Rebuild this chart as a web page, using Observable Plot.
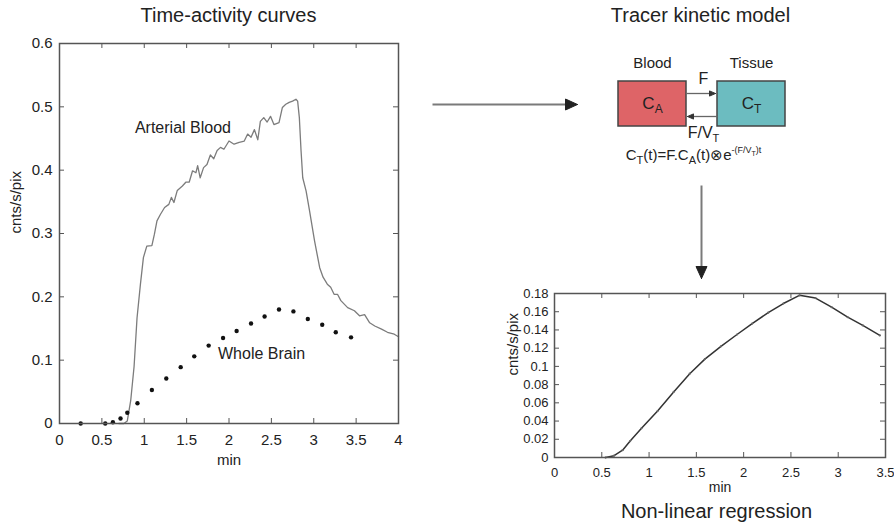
<!DOCTYPE html>
<html><head><meta charset="utf-8">
<script src="https://cdn.jsdelivr.net/npm/d3@7"></script>
<script src="https://cdn.jsdelivr.net/npm/@observablehq/plot@0.6"></script>
<style>
html,body{margin:0;padding:0;background:#fff;}
#root{position:relative;width:894px;height:529px;overflow:hidden;font-family:"Liberation Sans",Arial,Helvetica,sans-serif;}
#root svg{position:absolute;max-width:none !important;}
</style></head><body><div id="root"></div>
<script>
// ---------- data ----------
const arterialTime = [0.70,0.76,0.80,0.84,0.88,0.915,0.955,0.99,1.03,1.09,1.12,1.15,1.19,1.24,1.29,1.32,1.35,1.39,1.45,1.49,1.53,1.57,1.61,1.63,1.66,1.70,1.74,1.78,1.82,1.86,1.90,1.94,2.00,2.06,2.12,2.18,2.22,2.26,2.30,2.34,2.37,2.41,2.45,2.49,2.53,2.59,2.63,2.67,2.71,2.75,2.79,2.81,2.83,2.85,2.87,2.91,2.95,3.01,3.07,3.11,3.16,3.20,3.24,3.28,3.32,3.40,3.48,3.54,3.60,3.66,3.72,3.80,3.87,3.95,4.00];
const arterialValue = [0.000,0.000,0.004,0.036,0.090,0.167,0.220,0.262,0.280,0.281,0.299,0.320,0.330,0.341,0.346,0.357,0.349,0.368,0.375,0.381,0.381,0.399,0.396,0.407,0.388,0.404,0.409,0.424,0.418,0.431,0.436,0.433,0.446,0.441,0.444,0.446,0.457,0.452,0.464,0.448,0.477,0.483,0.476,0.485,0.472,0.475,0.499,0.504,0.507,0.509,0.512,0.509,0.483,0.431,0.388,0.367,0.336,0.288,0.246,0.231,0.220,0.215,0.204,0.204,0.194,0.183,0.178,0.170,0.172,0.159,0.154,0.149,0.144,0.141,0.137];
const brainTime = [0.25,0.54,0.63,0.72,0.80,0.92,1.09,1.26,1.43,1.59,1.76,1.93,2.09,2.26,2.42,2.59,2.76,2.93,3.10,3.26,3.44];
const brainValue = [0.000,0.000,0.002,0.008,0.017,0.032,0.053,0.071,0.089,0.106,0.123,0.135,0.146,0.158,0.169,0.180,0.177,0.165,0.156,0.144,0.136];
const fitTime = [0.54,0.63,0.72,0.80,0.92,1.09,1.26,1.43,1.59,1.76,1.93,2.09,2.26,2.42,2.59,2.76,2.93,3.10,3.26,3.44];
const fitValue = [0.000,0.002,0.008,0.018,0.032,0.051,0.072,0.092,0.108,0.122,0.135,0.147,0.159,0.169,0.178,0.175,0.165,0.154,0.145,0.134];
const leftXTicks = [0,0.5,1,1.5,2,2.5,3,3.5,4];
const leftYTicks = [0,0.1,0.2,0.3,0.4,0.5,0.6];
const rightXTicks = [0,0.5,1,1.5,2,2.5,3,3.5];
const rightYTicks = [0,0.02,0.04,0.06,0.08,0.1,0.12,0.14,0.16,0.18];
const panelTitles = ["Time-activity curves","Tracer kinetic model","Non-linear regression"];
const seriesLabels = ["Arterial Blood","Whole Brain"];
const compartmentNames = ["Blood","Tissue"];
const compartmentSymbols = ["C_A","C_T"];
const rateLabels = ["F","F/V_T"];
const modelEquation = "EQUATION";
const axisLabelY = "cnts/s/pix";
const axisLabelX = "min";

// ---------- layout ----------
const FONT = '"Liberation Sans", Arial, Helvetica, sans-serif';
const root = document.getElementById("root");
const fmt = d => String(d);
const TL = 5; // tick length px

function inwardTicks(xt, yt, W, H, color) {
  return [
    Plot.tickX(xt, {x: d => d, insetTop: H - TL, stroke: color}),
    Plot.tickX(xt, {x: d => d, insetBottom: H - TL, stroke: color}),
    Plot.tickY(yt, {y: d => d, insetRight: W - TL, stroke: color}),
    Plot.tickY(yt, {y: d => d, insetLeft: W - TL, stroke: color})
  ];
}

// Left panel
const L = {width: 420, height: 483, ml: 59, mr: 22, mt: 43, mb: 60};
const LW = L.width - L.ml - L.mr, LH = L.height - L.mt - L.mb;
const leftPlot = Plot.plot({
  width: L.width, height: L.height,
  marginLeft: L.ml, marginRight: L.mr, marginTop: L.mt, marginBottom: L.mb,
  style: {background: "transparent", fontFamily: FONT, fontSize: "15px", color: "#222"},
  x: {domain: [0, 4]},
  y: {domain: [0, 0.6]},
  marks: [
    Plot.axisX(leftXTicks, {tickSize: 0, tickPadding: 11, fontSize: 15, label: null, tickFormat: fmt}),
    Plot.axisY(leftYTicks, {tickSize: 0, tickPadding: 7, fontSize: 15, label: null, tickFormat: fmt}),
    ...inwardTicks(leftXTicks, leftYTicks, LW, LH, "#555"),
    Plot.line(d3.range(arterialTime.length), {x: i => arterialTime[i], y: i => arterialValue[i], stroke: "#7c7c7c", strokeWidth: 1.3}),
    Plot.dot(d3.range(brainTime.length), {x: i => brainTime[i], y: i => brainValue[i], r: 2.2, fill: "#111", stroke: null}),
    Plot.text([{t: 0.89, v: 0.467, s: seriesLabels[0]}], {x: "t", y: "v", text: "s", textAnchor: "start", fontSize: 16, fill: "#222"}),
    Plot.text([{t: 1.87, v: 0.1105, s: seriesLabels[1]}], {x: "t", y: "v", text: "s", textAnchor: "start", fontSize: 16, fill: "#222"}),
    Plot.text([axisLabelY], {frameAnchor: "left", dx: -43, rotate: -90, fontSize: 15, fill: "#222"}),
    Plot.text([axisLabelX], {frameAnchor: "bottom", dy: 41, fontSize: 15, fill: "#222"}),
    Plot.frame({stroke: "#555", strokeWidth: 1.5})
  ]
});
leftPlot.style.left = "0px"; leftPlot.style.top = "0px";

// Right panel
const R = {left: 480, top: 280, width: 414, height: 217, ml: 74, mr: 9, mt: 13, mb: 40};
const RW = R.width - R.ml - R.mr, RH = R.height - R.mt - R.mb;
const rightPlot = Plot.plot({
  width: R.width, height: R.height,
  marginLeft: R.ml, marginRight: R.mr, marginTop: R.mt, marginBottom: R.mb,
  style: {background: "transparent", fontFamily: FONT, fontSize: "13px", color: "#222"},
  x: {domain: [0, 3.5]},
  y: {domain: [0, 0.18]},
  marks: [
    Plot.axisX(rightXTicks, {tickSize: 0, tickPadding: 10, fontSize: 13, label: null, tickFormat: fmt}),
    Plot.axisY(rightYTicks, {tickSize: 0, tickPadding: 6, fontSize: 13, label: null, tickFormat: fmt}),
    ...inwardTicks(rightXTicks, rightYTicks, RW, RH, "#555"),
    Plot.line(d3.range(fitTime.length), {x: i => fitTime[i], y: i => fitValue[i], stroke: "#333", strokeWidth: 1.5}),
    Plot.dot(d3.range(fitTime.length), {x: i => fitTime[i], y: i => fitValue[i], r: 1.1, fill: "#666", stroke: null}),
    Plot.text([axisLabelY], {frameAnchor: "left", dx: -41, rotate: -90, fontSize: 15, fill: "#222"}),
    Plot.text([axisLabelX], {frameAnchor: "bottom", dy: 34, fontSize: 14, fill: "#222"}),
    Plot.frame({stroke: "#555", strokeWidth: 1.5})
  ]
});
rightPlot.style.left = R.left + "px"; rightPlot.style.top = R.top + "px";

// Overlay: titles, schematic, flow arrows (pixel layout)
function head(tipX, tipY, dx, dy, len, half) {
  const bx = tipX - dx * len, by = tipY - dy * len;
  const px = -dy, py = dx;
  return [[tipX, tipY], [bx + px * half, by + py * half], [bx - px * half, by - py * half], [tipX, tipY]];
}
const bigArrows = [
  {x1: 432, y1: 104, x2: 577, y2: 104},
  {x1: 701, y1: 185, x2: 701, y2: 278}
];
const smallArrows = [
  {x1: 686, y1: 93, x2: 715, y2: 93},
  {x1: 717, y1: 116, x2: 687, y2: 116}
];
function arrowMarks(arrows, len, half, lineColor, headColor, sw) {
  const marks = [];
  arrows.forEach((a, k) => {
    const L0 = Math.hypot(a.x2 - a.x1, a.y2 - a.y1);
    const dx = (a.x2 - a.x1) / L0, dy = (a.y2 - a.y1) / L0;
    marks.push(Plot.link([a], {x1: "x1", y1: "y1", x2: d => d.x2 - dx * len * 0.7, y2: d => d.y2 - dy * len * 0.7, stroke: lineColor, strokeWidth: sw}));
    marks.push(Plot.line(head(a.x2, a.y2, dx, dy, len, half), {x: "0", y: "1", fill: headColor, stroke: headColor, strokeWidth: 1}));
  });
  return marks;
}
const boxes = [
  {x1: 618, x2: 686, y1: 81, y2: 126, fill: "#de6467", name: compartmentNames[0], sym: compartmentSymbols[0]},
  {x1: 717, x2: 785, y1: 81, y2: 126, fill: "#6cbcc0", name: compartmentNames[1], sym: compartmentSymbols[1]}
];
const overlay = Plot.plot({
  width: 894, height: 529, margin: 0,
  style: {background: "transparent", fontFamily: FONT, color: "#222"},
  x: {type: "identity", axis: null},
  y: {type: "identity", axis: null},
  marks: [
    Plot.text([{x: 228, y: 15, s: panelTitles[0]}, {x: 700, y: 15, s: panelTitles[1]}, {x: 716, y: 511, s: panelTitles[2]}],
      {x: "x", y: "y", text: "s", fontSize: 20, fill: "#222"}),
    ...arrowMarks(bigArrows, 12, 5.5, "#7a7a7a", "#222", 2),
    Plot.rect(boxes, {x1: "x1", x2: "x2", y1: "y1", y2: "y2", fill: "fill", stroke: "#444", strokeWidth: 1.5}),
    ...arrowMarks(smallArrows, 6, 2.6, "#666", "#333", 1.3),
    Plot.text(boxes, {x: d => (d.x1 + d.x2) / 2, y: 62.5, text: "name", fontSize: 15, fill: "#222"}),
    Plot.text(boxes, {x: d => (d.x1 + d.x2) / 2, y: 103, text: "sym", fontSize: 17, fill: "#222"}),
    Plot.text([{x: 703, y: 78.5, s: rateLabels[0]}, {x: 703, y: 132.5, s: rateLabels[1]}], {x: "x", y: "y", text: "s", fontSize: 16, fill: "#222"}),
    Plot.text([{x: 693, y: 155, s: modelEquation}], {x: "x", y: "y", text: "s", fontSize: 15, fill: "#222"})
  ]
});
overlay.style.left = "0px"; overlay.style.top = "0px";

// rich text (subscripts / superscripts)
const sub = (t, fs) => `<tspan font-size="${fs}" dy="4">${t}</tspan>`;
const rich = {
  "C_A": `C${sub("A", 12)}`,
  "C_T": `C${sub("T", 12)}`,
  "F/V_T": `F/V${sub("T", 11)}`,
  "EQUATION": `C<tspan font-size="11" dy="4">T</tspan><tspan dy="-4">(t)=F.C</tspan><tspan font-size="11" dy="4">A</tspan><tspan dy="-4">(t)⊗e</tspan><tspan font-size="9" dy="-7">-(F/V</tspan><tspan font-size="7" dy="2.5">T</tspan><tspan font-size="9" dy="-2.5">)t</tspan>`
};
overlay.querySelectorAll("text").forEach(t => {
  const k = t.textContent;
  if (rich[k]) t.innerHTML = rich[k];
});

root.appendChild(overlay);
root.appendChild(leftPlot);
root.appendChild(rightPlot);
</script>
</body></html>
